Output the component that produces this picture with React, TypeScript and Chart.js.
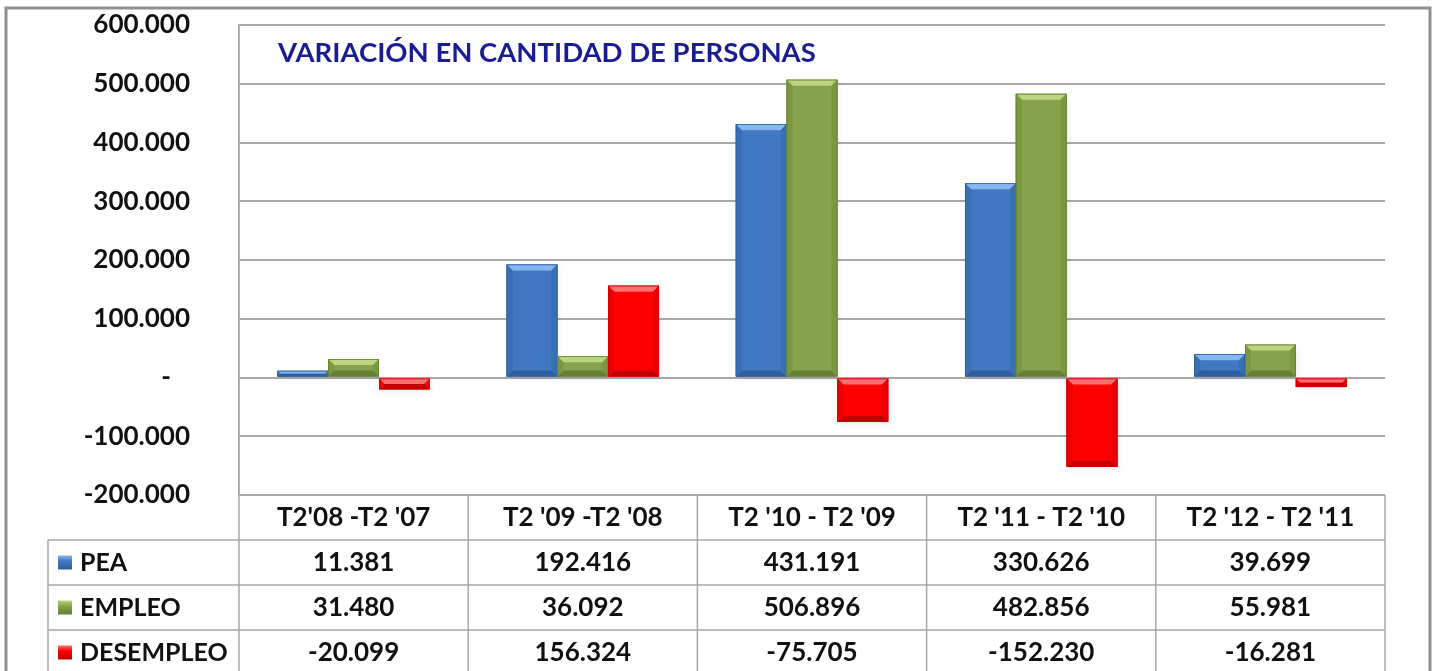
import React, { useEffect, useRef } from "react";
import { Chart, registerables } from "chart.js";

Chart.register(...registerables);

const categories = ["T2'08 -T2 '07", "T2 '09 -T2 '08", "T2 '10 - T2 '09", "T2 '11 - T2 '10", "T2 '12 - T2 '11"];
const seriesNames = ["PEA", "EMPLEO", "DESEMPLEO"];
const peaValues = [11381, 192416, 431191, 330626, 39699];
const empleoValues = [31480, 36092, 506896, 482856, 55981];
const desempleoValues = [-20099, 156324, -75705, -152230, -16281];
const titleText = "VARIACIÓN EN CANTIDAD DE PERSONAS";

const FONT = "Lato, 'Open Sans', sans-serif";

const palette = [
  { face: "#4079c2", light: "#86b6f0", dark: "#2f5f9c", side: "#3a6fb2" },
  { face: "#86a24a", light: "#bcd57f", dark: "#657f34", side: "#7c9743" },
  { face: "#fe0000", light: "#ff7070", dark: "#c20000", side: "#ec0000" },
];

function fmt(v: number): string {
  if (v === 0) return "-   ";
  const neg = v < 0;
  const s = Math.abs(Math.round(v)).toString().replace(/\B(?=(\d{3})+(?!\d))/g, ".");
  return (neg ? "-" : "") + s;
}

function barRect(el: any) {
  const p = el.getProps(["x", "y", "base", "width"], true);
  const l = p.x - p.width / 2;
  const r = p.x + p.width / 2;
  const t = Math.min(p.y, p.base);
  const b = Math.max(p.y, p.base);
  return { l, r, t, b };
}

const decorPlugin = {
  id: "decor",
  beforeDraw(chart: any) {
    const ctx = chart.ctx;
    ctx.save();
    ctx.fillStyle = "#ffffff";
    ctx.fillRect(0, 0, chart.width, chart.height);
    ctx.restore();
  },
  beforeDatasetsDraw(chart: any) {
    const ctx = chart.ctx;
    ctx.save();
    chart.data.datasets.forEach((_ds: any, di: number) => {
      const meta = chart.getDatasetMeta(di);
      meta.data.forEach((el: any) => {
        const { l, r, t, b } = barRect(el);
        ctx.shadowColor = "rgba(0,0,0,0.3)";
        ctx.shadowBlur = 6;
        ctx.shadowOffsetX = 2;
        ctx.shadowOffsetY = 3;
        ctx.fillStyle = "rgba(0,0,0,0.2)";
        ctx.fillRect(l, t, r - l, b - t);
      });
    });
    ctx.restore();
  },
  afterDatasetsDraw(chart: any) {
    const ctx = chart.ctx;
    ctx.save();
    chart.data.datasets.forEach((_ds: any, di: number) => {
      const meta = chart.getDatasetMeta(di);
      const c = palette[di];
      meta.data.forEach((el: any) => {
        const { l, r, t, b } = barRect(el);
        const h = b - t;
        const w = r - l;
        const bv = Math.max(1, Math.min(6, h / 2, w / 4));
        ctx.fillStyle = c.face;
        ctx.fillRect(l, t, w, h);
        ctx.fillStyle = c.light;
        ctx.beginPath();
        ctx.moveTo(l, t);
        ctx.lineTo(r, t);
        ctx.lineTo(r - bv, t + bv);
        ctx.lineTo(l + bv, t + bv);
        ctx.closePath();
        ctx.fill();
        ctx.fillStyle = c.dark;
        ctx.beginPath();
        ctx.moveTo(l, b);
        ctx.lineTo(r, b);
        ctx.lineTo(r - bv, b - bv);
        ctx.lineTo(l + bv, b - bv);
        ctx.closePath();
        ctx.fill();
        ctx.fillStyle = c.side;
        ctx.beginPath();
        ctx.moveTo(l, t);
        ctx.lineTo(l + bv, t + bv);
        ctx.lineTo(l + bv, b - bv);
        ctx.lineTo(l, b);
        ctx.closePath();
        ctx.fill();
        ctx.beginPath();
        ctx.moveTo(r, t);
        ctx.lineTo(r - bv, t + bv);
        ctx.lineTo(r - bv, b - bv);
        ctx.lineTo(r, b);
        ctx.closePath();
        ctx.fill();
        ctx.strokeStyle = c.dark;
        ctx.lineWidth = 0.8;
        ctx.strokeRect(l + 0.4, t + 0.4, w - 0.8, h - 0.8);
      });
    });
    ctx.restore();
  },
  afterDraw(chart: any) {
    const ctx = chart.ctx;
    const area = chart.chartArea;
    const xs = chart.scales.x;
    ctx.save();

    ctx.fillStyle = "#1a1c94";
    ctx.font = `bold 27.5px ${FONT}`;
    ctx.textAlign = "left";
    ctx.textBaseline = "middle";
    ctx.fillText(titleText, area.left + 39, area.top + 28);

    const n = categories.length;
    const colW = (area.right - area.left) / n;
    const rowH = 45;
    const top = area.bottom;
    const legendLeft = 48;
    ctx.strokeStyle = "#a8a8a8";
    ctx.lineWidth = 1.5;
    ctx.beginPath();
    ctx.moveTo(area.left, top);
    ctx.lineTo(area.right, top);
    for (let i = 1; i <= 4; i++) {
      ctx.moveTo(legendLeft, top + rowH * i);
      ctx.lineTo(area.right, top + rowH * i);
    }
    ctx.moveTo(area.left, area.top);
    ctx.lineTo(area.left, chart.height);
    for (let i = 1; i <= n; i++) {
      const x = area.left + colW * i;
      ctx.moveTo(x, top);
      ctx.lineTo(x, chart.height);
    }
    ctx.moveTo(legendLeft, top + rowH);
    ctx.lineTo(legendLeft, chart.height);
    ctx.stroke();

    ctx.fillStyle = "#111111";
    ctx.font = `bold 26px ${FONT}`;
    ctx.textAlign = "center";
    ctx.textBaseline = "middle";
    categories.forEach((cat, i) => {
      const cx = xs.getPixelForValue(i);
      ctx.fillText(cat, cx, top + rowH / 2);
    });
    const rows = [peaValues, empleoValues, desempleoValues];
    rows.forEach((vals, ri) => {
      const cy = top + rowH * (ri + 1) + rowH / 2;
      ctx.font = `bold 26px ${FONT}`;
      vals.forEach((v, i) => {
        const cx = xs.getPixelForValue(i);
        ctx.fillStyle = "#111111";
        ctx.textAlign = "center";
        ctx.fillText(fmt(v), cx, cy);
      });
      const c = palette[ri];
      const mx = 58, my = cy - 7, ms = 14;
      const g = ctx.createLinearGradient(0, my, 0, my + ms);
      g.addColorStop(0, c.light);
      g.addColorStop(0.4, c.face);
      g.addColorStop(1, c.dark);
      ctx.fillStyle = g;
      ctx.fillRect(mx, my, ms, ms);
      ctx.fillStyle = "#111111";
      ctx.textAlign = "left";
      ctx.font = `bold 25px ${FONT}`;
      ctx.fillText(seriesNames[ri], 80, cy);
    });

    ctx.strokeStyle = "#8f8f8f";
    ctx.lineWidth = 3;
    ctx.strokeRect(6, 8, 1424, chart.height + 20);
    ctx.restore();
  },
};

export default function App() {
  const ref = useRef<HTMLCanvasElement | null>(null);
  useEffect(() => {
    if (!ref.current) return;
    const chart = new Chart(ref.current, {
      type: "bar",
      data: {
        labels: categories,
        datasets: [
          { label: seriesNames[0], data: peaValues, backgroundColor: palette[0].face },
          { label: seriesNames[1], data: empleoValues, backgroundColor: palette[1].face },
          { label: seriesNames[2], data: desempleoValues, backgroundColor: palette[2].face },
        ],
      },
      options: {
        responsive: false,
        animation: false,
        devicePixelRatio: 1,
        layout: { padding: { left: 0, top: 25, right: 50, bottom: 176 } },
        datasets: { bar: { categoryPercentage: 0.665, barPercentage: 1 } },
        plugins: { legend: { display: false }, tooltip: { enabled: false }, title: { display: false } },
        scales: {
          x: { display: false },
          y: {
            min: -200000,
            max: 600000,
            afterFit: (scale: any) => { scale.width = 239; },
            ticks: {
              stepSize: 100000,
              padding: 0,
              color: "#111111",
              font: { family: FONT, size: 26, weight: "bold" },
              callback: (v: any) => fmt(Number(v)),
            },
            grid: { color: "#a8a8a8", lineWidth: 2, drawTicks: true, tickLength: 49, tickColor: "rgba(0,0,0,0)" },
            border: { display: true, color: "#a8a8a8", width: 1.5 },
          },
        },
      },
      plugins: [decorPlugin],
    });
    return () => chart.destroy();
  }, []);
  return (
    <div style={{ position: "fixed", left: 0, top: 0, width: 1435, height: 671, background: "#fff" }}>
      <canvas ref={ref} width={1435} height={671} style={{ display: "block", width: 1435, height: 671 }} />
    </div>
  );
}
